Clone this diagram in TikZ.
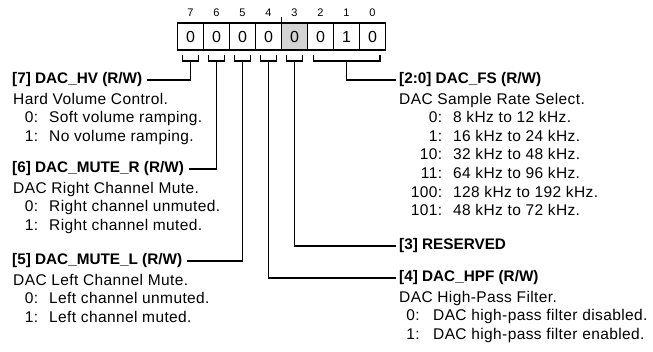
\documentclass[tikz,border=0pt]{standalone}
\usepackage{fontspec}
\setmainfont{Liberation Sans}
\newfontfamily\regfont{Liberation Sans}[LetterSpace=2.5]
\newcommand\myLitem[2]{\hspace*{12pt}\makebox[13pt][r]{#1:}\hspace{11pt}#2}
\newcommand\myFitem[2]{\hspace*{12.7pt}\makebox[30.2pt][r]{#1:}\hspace{11pt}#2}
\newcommand\myHitem[2]{\hspace*{7.5pt}\makebox[13pt][r]{#1:}\hspace{13.5pt}#2}
\begin{document}
\begin{tikzpicture}[x=1pt,y=-1pt,
  conn/.style={line width=1.8pt},
  regtitle/.style={font=\fontsize{15.3}{18}\selectfont\bfseries, inner sep=0pt, anchor=west},
  desc/.style={font=\regfont\fontsize{15.5}{18.6}\selectfont, inner sep=0pt, anchor=base west},
  cell/.style={draw, line width=1.8pt, minimum width=26pt, minimum height=26.7pt, inner sep=0pt, outer sep=0pt, font=\fontsize{16}{16}\selectfont},
  bitnum/.style={font=\fontsize{11}{11}\selectfont, inner sep=0pt}]
\useasboundingbox (0,0) rectangle (653,352);
% register cells
\foreach \b/\v in {7/0,6/0,5/0,4/0,2/0,1/1,0/0}{
  \node[cell] (c\b) at ({190.5+26*(7-\b)},36.7) {\v};
  \node[bitnum] (n\b) at ({190.5+26*(7-\b)},12.5) {\b};
}
\node[cell, fill=black!17] (c3) at ({190.5+26*4},36.7) {0};
\node[bitnum] (n3) at ({190.5+26*4},12.5) {3};
\draw[line width=1.2pt] (c4.north east) -- ++(0,-6.6);
% brackets and stem points
\foreach \b in {7,6,5,4,3}{
  \draw[conn] ([xshift=-8pt,yshift=-4.5pt]c\b.south) -- ++(0,6.5) -- ++(16,0) -- ++(0,-6.5);
  \coordinate (s\b) at ([yshift=-11pt]c\b.south);
}
\draw[conn] ([xshift=-7pt,yshift=-4.5pt]c2.south) -- ++(0,6.5) -| ([xshift=7.5pt,yshift=-4.5pt]c0.south);
\coordinate (s20) at ([yshift=-11pt]c1.south);
% titles
\node[regtitle] (t7) at (12,80) {[7] DAC\_HV (R/W)};
\node[regtitle] (t6) at (12,169) {[6] DAC\_MUTE\_R (R/W)};
\node[regtitle] (t5) at (12,261) {[5] DAC\_MUTE\_L (R/W)};
\node[regtitle] (t20) at (399,80) {[2:0] DAC\_FS (R/W)};
\node[regtitle] (t3) at (399,246) {[3] RESERVED};
\node[regtitle] (t4) at (399,278) {[4] DAC\_HPF (R/W)};
% connectors
\draw[conn] ([xshift=5pt]t7.east) -| (s7);
\draw[conn] ([xshift=5pt]t6.east) -| (s6);
\draw[conn] ([xshift=5pt]t5.east) -| (s5);
\draw[conn] (s4) |- ([xshift=-3pt]t4.west);
\draw[conn] (s3) |- ([xshift=-3pt]t3.west);
\draw[conn] (s20) |- ([xshift=-3pt]t20.west);
% descriptions
\node[desc] (d7) at (13,104.1) {\begin{tabular}[t]{@{}l@{}}
Hard Volume Control.\\
\myLitem{0}{Soft volume ramping.}\\
\myLitem{1}{No volume ramping.}
\end{tabular}};
\node[desc] (d6) at (13,193.1) {\begin{tabular}[t]{@{}l@{}}
DAC Right Channel Mute.\\
\myLitem{0}{Right channel unmuted.}\\
\myLitem{1}{Right channel muted.}
\end{tabular}};
\node[desc] (d5) at (13,285.1) {\begin{tabular}[t]{@{}l@{}}
DAC Left Channel Mute.\\
\myLitem{0}{Left channel unmuted.}\\
\myLitem{1}{Left channel muted.}
\end{tabular}};
\node[desc] (d20) at (399,104.1) {\begin{tabular}[t]{@{}l@{}}
DAC Sample Rate Select.\\
\myFitem{0}{8 kHz to 12 kHz.}\\
\myFitem{1}{16 kHz to 24 kHz.}\\
\myFitem{10}{32 kHz to 48 kHz.}\\
\myFitem{11}{64 kHz to 96 kHz.}\\
\myFitem{100}{128 kHz to 192 kHz.}\\
\myFitem{101}{48 kHz to 72 kHz.}
\end{tabular}};
\node[desc] (d4) at (399,302.1) {\begin{tabular}[t]{@{}l@{}}
DAC High-Pass Filter.\\
\myHitem{0}{DAC high-pass filter disabled.}\\
\myHitem{1}{DAC high-pass filter enabled.}
\end{tabular}};
\end{tikzpicture}
\end{document}
